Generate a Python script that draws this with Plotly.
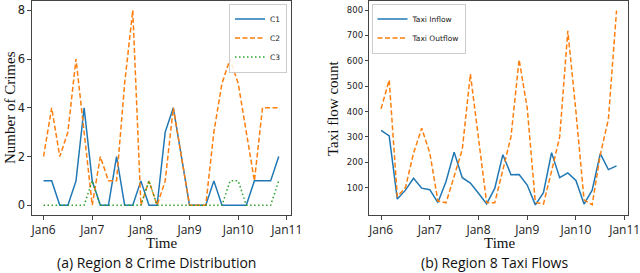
import pandas as pd
import plotly.graph_objects as go
from plotly.subplots import make_subplots

# ---- data (4-hour slots, Jan6 00:00 .. Jan10 20:00) ----
times = pd.date_range("2016-01-06 00:00", periods=30, freq="4h")

crime_c1 = [1, 1, 0, 0, 1, 4, 1, 0, 0, 2, 0, 0, 1, 0, 0, 3, 4, 2, 0, 0, 0, 1, 0, 0, 0, 0, 1, 1, 1, 2]
crime_c2 = [2, 4, 2, 3, 6, 3, 0, 2, 1, 1, 5, 8, 0, 1, 0, 1, 4, 2, 0, 0, 0, 3, 5, 6, 5, 3, 1, 4, 4, 4]
crime_c3 = [0, 0, 0, 0, 0, 0, 1, 0, 0, 0, 0, 0, 0, 1, 0, 0, 0, 0, 0, 0, 0, 0, 0, 1, 1, 0, 0, 0, 0, 1]

taxi_inflow = [326, 304, 55, 90, 137, 98, 92, 41, 124, 240, 139, 118, 78, 36, 97,
               230, 151, 152, 110, 32, 80, 238, 139, 158, 128, 35, 90, 234, 171, 186]
taxi_outflow = [411, 524, 64, 100, 236, 334, 237, 47, 40, 145, 250, 548, 290, 41, 40,
                170, 300, 605, 414, 42, 35, 165, 300, 718, 400, 52, 32, 230, 370, 798]

tick_dates = pd.date_range("2016-01-06", periods=6, freq="D")
tick_labels = ["Jan6", "Jan7", "Jan8", "Jan9", "Jan10", "Jan11"]
crime_yticks = [0, 2, 4, 6, 8]
taxi_yticks = [100, 200, 300, 400, 500, 600, 700, 800]

BLUE, ORANGE, GREEN = "#1f77b4", "#ff7f0e", "#2ca02c"
W, H = 640, 273

def px_x(p):
    return p / W

def px_y(p):
    return 1 - p / H

fig = make_subplots(rows=1, cols=2)

fig.add_trace(go.Scatter(x=times, y=crime_c1, mode="lines", name="C1",
                         line=dict(color=BLUE, width=1.5), legend="legend"), 1, 1)
fig.add_trace(go.Scatter(x=times, y=crime_c2, mode="lines", name="C2",
                         line=dict(color=ORANGE, width=1.5, dash="5px,2.5px"), legend="legend"), 1, 1)
fig.add_trace(go.Scatter(x=times, y=crime_c3, mode="lines", name="C3",
                         line=dict(color=GREEN, width=1.5, dash="1.5px,2.5px"), legend="legend"), 1, 1)

fig.add_trace(go.Scatter(x=times, y=taxi_inflow, mode="lines", name="Taxi Inflow",
                         line=dict(color=BLUE, width=1.5), legend="legend2"), 1, 2)
fig.add_trace(go.Scatter(x=times, y=taxi_outflow, mode="lines", name="Taxi Outflow",
                         line=dict(color=ORANGE, width=1.5, dash="5px,2.5px"), legend="legend2"), 1, 2)

span = times[-1] - times[0]
xr = [times[0] - 0.05 * span, times[-1] + 0.05 * span]

axis_common = dict(showline=True, mirror=True, linecolor="#444", linewidth=1,
                   ticks="outside", ticklen=3.5, tickwidth=1, tickcolor="#444",
                   showgrid=False, zeroline=False, automargin=False,
                   ticklabeloverflow="allow")

ydom = [px_y(215), px_y(0.5)]
fig.update_xaxes(axis_common, range=xr, tickvals=tick_dates, ticktext=tick_labels,
                 tickfont=dict(family="Open Sans", size=12, color="#222"))
fig.update_xaxes(domain=[px_x(31.8), px_x(290.5)], row=1, col=1)
fig.update_xaxes(domain=[px_x(369.3), px_x(628.3)], row=1, col=2)

c_lo, c_hi = min(crime_c2), max(crime_c2)
fig.update_yaxes(axis_common, domain=ydom)
fig.update_yaxes(range=[c_lo - 0.05 * (c_hi - c_lo), c_hi + 0.05 * (c_hi - c_lo)],
                 tickvals=crime_yticks,
                 tickfont=dict(family="DejaVu Sans", size=11.5, color="#222"), row=1, col=1)
fig.update_yaxes(range=[-8, 838], tickvals=taxi_yticks,
                 tickfont=dict(family="DejaVu Sans", size=8.5, color="#222"), row=1, col=2)

legend_common = dict(font=dict(family="DejaVu Sans", size=7.5, color="#222"),
                     bgcolor="rgba(255,255,255,0.85)", bordercolor="#cccccc", borderwidth=1,
                     itemwidth=30, tracegroupgap=0, yanchor="top")
annotations = [
    dict(text="Number of Crimes", x=px_x(10), y=px_y(108), textangle=-90,
         font=dict(family="Liberation Serif", size=15, color="#111")),
    dict(text="Taxi flow count", x=px_x(333), y=px_y(108), textangle=-90,
         font=dict(family="Liberation Serif", size=15, color="#111")),
    dict(text="Time", x=px_x(161), y=px_y(242.5),
         font=dict(family="Liberation Serif", size=15, color="#111")),
    dict(text="Time", x=px_x(499), y=px_y(242.5),
         font=dict(family="Liberation Serif", size=15, color="#111")),
    dict(text="(a) Region 8 Crime Distribution", x=px_x(156), y=px_y(262.5),
         font=dict(family="Open Sans", size=14, color="#111")),
    dict(text="(b) Region 8 Taxi Flows", x=px_x(494), y=px_y(262.5),
         font=dict(family="Open Sans", size=14, color="#111")),
]
for a in annotations:
    a.update(xref="paper", yref="paper", showarrow=False, xanchor="center", yanchor="middle")

fig.update_layout(
    width=W, height=H, margin=dict(l=0, r=0, t=0, b=0, pad=0),
    paper_bgcolor="white", plot_bgcolor="white",
    showlegend=True, hovermode=False,
    legend=dict(legend_common, x=px_x(287), y=px_y(3.5), xanchor="right"),
    legend2=dict(legend_common, x=px_x(371.5), y=px_y(3.5), xanchor="left"),
    annotations=annotations,
)

fig.write_html("out.html", config={"displayModeBar": False, "staticPlot": True},
               post_script="document.body.style.margin='0';document.body.style.padding='0';")
